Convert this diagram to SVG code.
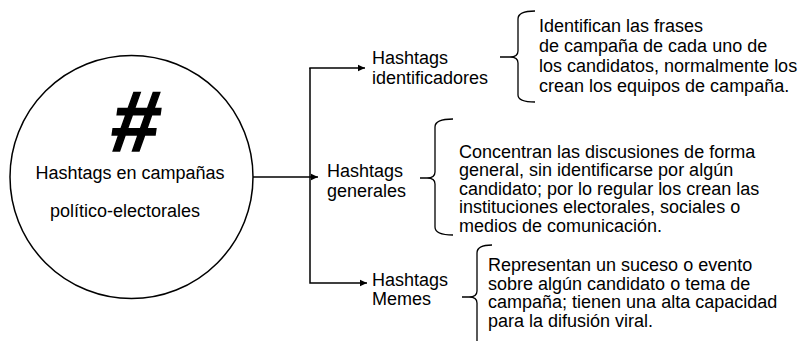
<svg xmlns="http://www.w3.org/2000/svg" width="807" height="341" viewBox="0 0 807 341">
<style>
text{font-family:"Liberation Sans",Arial,sans-serif;font-size:18px;fill:#000}
.ln{fill:none;stroke:#000;stroke-width:1.5}
.br{fill:none;stroke:#000;stroke-width:1.3}
</style>
<defs>
<marker id="ah" markerWidth="8" markerHeight="8" refX="7" refY="4" orient="auto" markerUnits="userSpaceOnUse">
<path d="M0,0.8 L7,4 L0,7.2 Z" fill="#000"/>
</marker>
</defs>
<rect width="807" height="341" fill="#fff"/>
<g id="center">
<circle cx="131.5" cy="177" r="121.5" class="ln"/>
<text x="132.5" y="151" text-anchor="middle" transform="translate(132.5,151) skewX(-8) translate(-132.5,-151)" style="font-size:86px;font-weight:bold;stroke:#000;stroke-width:1.5">#</text>
<text x="130" y="179" text-anchor="middle">Hashtags en campañas</text>
<text x="125" y="217" text-anchor="middle">político-electorales</text>
</g>
<g id="connectors">
<path class="ln" d="M253,177 L318,177" marker-end="url(#ah)"/>
<path class="ln" d="M310,68 L310,283 L367,283" marker-end="url(#ah)"/>
<path class="ln" d="M309.25,68 L365,68" marker-end="url(#ah)"/>
</g>
<g id="identificadores">
<text x="372" y="64">Hashtags</text>
<text x="372" y="84">identificadores</text>
</g>
<g id="generales">
<text x="327" y="177">Hashtags</text>
<text x="327" y="197">generales</text>
</g>
<g id="memes">
<text x="372" y="286">Hashtags</text>
<text x="372" y="305">Memes</text>
</g>
<g id="desc-identificadores">
<path class="br" d="M535,11 Q518,11 518,19 L518,51 Q518,57 510,57 L500,57 M510,57 Q518,57 518,63 L518,95 Q518,102 535,102"/>
<text x="539" y="32">Identifican las frases</text>
<text x="539" y="52">de campaña de cada uno de</text>
<text x="539" y="72">los candidatos, normalmente los</text>
<text x="539" y="92">crean los equipos de campaña.</text>
</g>
<g id="desc-generales">
<path class="br" d="M453,119 Q435,119 435,127 L435,172 Q435,178 427,178 L420,178 M427,178 Q435,178 435,184 L435,227 Q435,235 453,235"/>
<text x="459" y="157.5">Concentran las discusiones de forma</text>
<text x="459" y="176">general, sin identificarse por algún</text>
<text x="459" y="194.5">candidato; por lo regular los crean las</text>
<text x="459" y="213">instituciones electorales, sociales o</text>
<text x="459" y="231.5">medios de comunicación.</text>
</g>
<g id="desc-memes">
<path class="br" d="M492,245 Q477,245 477,253 L477,291 Q477,297 469,297 L462,297 M469,297 Q477,297 477,303 L477,345"/>
<text x="488" y="271">Representan un suceso o evento</text>
<text x="488" y="289.5">sobre algún candidato o tema de</text>
<text x="488" y="308">campaña; tienen una alta capacidad</text>
<text x="488" y="326.5">para la difusión viral.</text>
</g>
</svg>
